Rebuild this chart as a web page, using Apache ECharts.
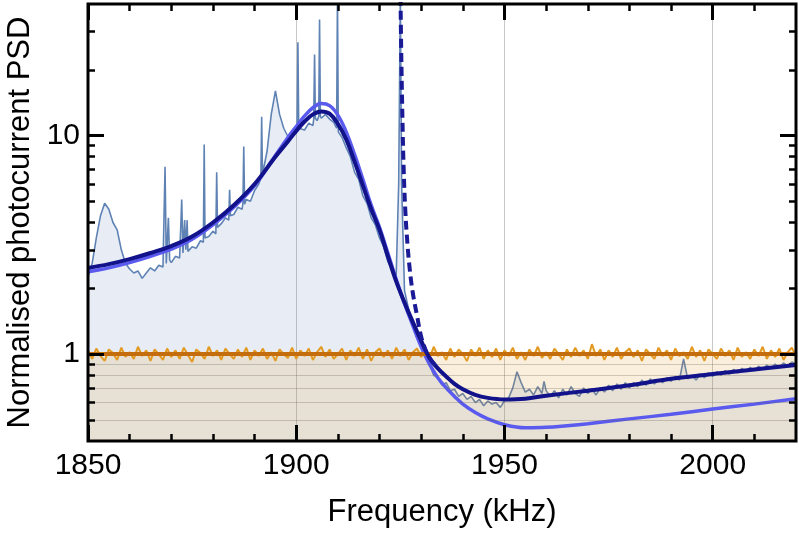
<!DOCTYPE html>
<html>
<head>
<meta charset="utf-8">
<script src="https://cdn.jsdelivr.net/npm/echarts@6/dist/echarts.min.js"></script>
<style>
  html, body { margin: 0; padding: 0; background: #fff; }
  #chart { width: 799px; height: 535px; }
</style>
</head>
<body>
<div id="chart"></div>
<script>
// axis ranges and ticks
const freqRange = [1850, 2020]
const psdRange = [0.4, 40]
const freqTicks = [1850, 1900, 1950, 2000]
const freqMinorTicks = [1860, 1870, 1880, 1890, 1910, 1920, 1930, 1940, 1960, 1970, 1980, 1990, 2010]
const psdTicks = [1, 10]
const psdMinorTicks = [0.5, 0.6, 0.7, 0.8, 0.9, 2, 3, 4, 5, 6, 7, 8, 9, 20, 30]
const belowUnityGrid = [0.5, 0.6, 0.7, 0.8, 0.9]

// measured photocurrent PSD (kHz, normalised)
const measured = [
    [1850, 2.25], [1851, 2.6], [1852, 3.4], [1853, 4.3], [1854, 4.9], [1855, 4.6], [1856, 4.0], [1857, 3.7],
    [1858, 3.0], [1859, 2.6], [1860, 2.45], [1861, 2.35], [1862, 2.4], [1863, 2.22], [1864, 2.35], [1865, 2.48],
    [1866, 2.4], [1867, 2.55], [1868, 2.5], [1868.5, 7.2], [1868.8, 2.6], [1869, 2.65], [1869.3, 4.2], [1869.6, 2.7],
    [1870, 2.62], [1871, 2.8], [1872, 2.75], [1872.5, 5.1], [1872.8, 2.9], [1873, 2.85], [1873.2, 4.1], [1873.5, 3.0],
    [1873.8, 4.1], [1874, 2.95], [1875, 3.1], [1876, 3.05], [1877, 3.3], [1877.7, 3.25], [1877.9, 9.1], [1878.1, 3.4],
    [1879, 3.45], [1880, 3.65], [1880.7, 3.55], [1880.9, 6.8], [1881.1, 3.8], [1882, 3.95], [1883, 4.2], [1883.8, 4.1],
    [1884, 5.65], [1884.2, 4.3], [1885, 4.35], [1886, 4.7], [1887, 4.6], [1887.2, 4.9], [1887.4, 8.9], [1887.6, 4.85],
    [1888, 5.1], [1889, 5.0], [1890, 5.6], [1891, 6.0], [1891.5, 6.4], [1891.7, 12.2], [1891.9, 6.6], [1892, 6.8],
    [1893, 8.5], [1894, 12.5], [1895, 16.0], [1896, 12.5], [1897, 10.8], [1898, 9.9], [1899, 10.5], [1900, 10.2],
    [1900.2, 10.7], [1900.4, 26.7], [1900.6, 10.8], [1901, 11.0], [1902, 10.6], [1903, 11.4], [1904, 11.1],
    [1904.2, 11.9], [1904.4, 23.5], [1904.6, 12.0], [1905, 11.7], [1905.4, 12.2], [1905.6, 34], [1905.8, 12.3],
    [1906, 12.0], [1907, 12.5], [1908, 11.9], [1909, 11.5], [1909.7, 10.8], [1909.9, 45], [1910.1, 10.4],
    [1911, 9.8], [1912, 8.8], [1913, 8.0], [1914, 6.8], [1915, 6.3], [1916, 5.3], [1917, 4.9], [1918, 4.2],
    [1919, 3.9], [1920, 3.4], [1921, 3.1], [1922, 2.65], [1923, 2.45], [1924, 2.3], [1924.6, 6], [1925, 45],
    [1925.3, 6], [1926, 1.95], [1927, 1.6], [1928, 1.35], [1929, 1.18], [1930, 1.1], [1931, 0.97], [1932, 0.9],
    [1933, 0.8], [1934, 0.78], [1935, 0.72], [1936, 0.74], [1937, 0.68], [1938, 0.69], [1939, 0.64], [1940, 0.66],
    [1941, 0.62], [1942, 0.64], [1943, 0.6], [1944, 0.62], [1945, 0.58], [1946, 0.61], [1947, 0.59], [1948, 0.6],
    [1949, 0.57], [1950, 0.61], [1951, 0.63], [1952, 0.7], [1953, 0.83], [1954, 0.74], [1955, 0.67], [1956, 0.69],
    [1957, 0.65], [1958, 0.71], [1959, 0.66], [1959.5, 0.75], [1960, 0.68], [1961, 0.64], [1962, 0.68], [1963, 0.63],
    [1964, 0.69], [1965, 0.65], [1966, 0.71], [1967, 0.66], [1968, 0.64], [1969, 0.7], [1970, 0.66], [1971, 0.69],
    [1972, 0.65], [1973, 0.7], [1974, 0.67], [1975, 0.72], [1976, 0.68], [1977, 0.73], [1978, 0.69], [1979, 0.74],
    [1980, 0.7], [1981, 0.74], [1982, 0.71], [1983, 0.76], [1984, 0.72], [1985, 0.77], [1986, 0.73], [1987, 0.76],
    [1988, 0.74], [1989, 0.78], [1990, 0.75], [1991, 0.79], [1992, 0.76], [1993, 0.95], [1994, 0.77], [1995, 0.8],
    [1996, 0.76], [1997, 0.81], [1998, 0.78], [1999, 0.82], [2000, 0.79], [2001, 0.83], [2002, 0.8], [2003, 0.84],
    [2004, 0.81], [2005, 0.85], [2006, 0.82], [2007, 0.86], [2008, 0.83], [2009, 0.87], [2010, 0.84], [2011, 0.88],
    [2012, 0.85], [2013, 0.89], [2014, 0.86], [2015, 0.9], [2016, 0.87], [2017, 0.91], [2018, 0.88], [2019, 0.92],
    [2020, 0.9]
]

// shot noise reference, one value per kHz from 1850
const shotStart = 1850
const shotNoise = [
    1.04, 0.95, 1.06, 0.98, 0.93, 1.05, 1.01, 0.94, 1.07, 0.97,
    1.02, 0.95, 1.08, 0.98, 1.04, 0.93, 1.05, 1.00, 0.94, 1.06,
    0.97, 1.04, 0.95, 1.07, 0.99, 0.92, 1.05, 1.01, 0.95, 1.08,
    0.98, 1.04, 0.94, 1.06, 1.00, 0.95, 1.05, 0.97, 1.07, 0.94,
    1.04, 0.98, 1.06, 0.95, 1.02, 0.93, 1.05, 1.00, 0.96, 1.07,
    0.95, 1.04, 0.98, 1.06, 0.94, 1.02, 1.08, 0.97, 1.05, 0.95,
    1.00, 1.06, 0.94, 1.04, 0.98, 1.07, 0.95, 1.05, 0.93, 1.02,
    1.06, 0.97, 1.04, 0.95, 1.07, 0.98, 1.05, 0.94, 1.02, 1.06,
    0.97, 1.04, 0.95, 1.08, 0.98, 1.02, 0.94, 1.06, 0.97, 1.05,
    1.00, 0.93, 1.05, 0.98, 1.07, 0.95, 1.04, 0.97, 1.06, 0.94,
    1.04, 0.98, 1.07, 0.95, 1.02, 0.94, 1.05, 0.98, 1.08, 0.96,
    1.02, 0.95, 1.06, 1.00, 0.94, 1.05, 0.97, 1.07, 0.98, 1.04,
    0.95, 1.11, 0.98, 1.05, 0.94, 1.04, 0.97, 1.07, 0.95, 1.02,
    1.06, 0.97, 1.04, 0.93, 1.05, 1.00, 0.95, 1.07, 0.98, 1.04,
    0.94, 1.06, 0.98, 1.02, 0.95, 1.08, 0.97, 1.04, 0.93, 1.05,
    1.00, 0.95, 1.06, 0.98, 1.04, 0.94, 1.07, 0.97, 1.02, 0.95,
    1.05, 0.98, 1.08, 0.95, 1.04, 0.97, 1.06, 0.94, 1.02, 1.07,
    0.98
]
const shotLevel = 1

// model fits
const fitFull = [
    [1850, 2.48], [1855, 2.58], [1860, 2.72], [1865, 2.9], [1870, 3.12], [1875, 3.45], [1880, 4.0],
    [1885, 4.8], [1890, 6.0], [1895, 8.0], [1898, 9.4], [1900, 10.5], [1902, 11.6], [1904, 12.5], [1906, 12.9],
    [1908, 12.6], [1910, 11.3], [1912, 9.6], [1914, 7.6], [1916, 5.9], [1918, 4.6], [1920, 3.7], [1922, 2.8],
    [1924, 2.15], [1926, 1.72], [1928, 1.4], [1930, 1.15], [1932, 0.96], [1934, 0.86], [1936, 0.79], [1938, 0.73],
    [1940, 0.69], [1943, 0.65], [1946, 0.63], [1950, 0.62], [1955, 0.625], [1960, 0.645], [1970, 0.68],
    [1980, 0.72], [1990, 0.77], [2000, 0.81], [2010, 0.85], [2020, 0.89]
]
const fitNoCavity = [
    [1850, 2.38], [1855, 2.48], [1860, 2.62], [1865, 2.8], [1870, 3.02], [1875, 3.35], [1880, 3.9],
    [1885, 4.7], [1890, 5.9], [1895, 8.1], [1898, 9.8], [1900, 11.0], [1902, 12.3], [1904, 13.4], [1906, 14.0],
    [1908, 13.7], [1910, 12.4], [1912, 10.4], [1914, 8.2], [1916, 6.3], [1918, 4.8], [1920, 3.8], [1922, 2.9],
    [1924, 2.2], [1926, 1.7], [1928, 1.35], [1930, 1.08], [1932, 0.9], [1934, 0.78], [1936, 0.7], [1938, 0.64],
    [1940, 0.59], [1943, 0.54], [1946, 0.505], [1950, 0.475], [1955, 0.46], [1960, 0.462], [1965, 0.47],
    [1970, 0.48], [1980, 0.505], [1990, 0.53], [2000, 0.56], [2010, 0.59], [2020, 0.625]
]
const fitResonance = [
    [1925.0, 50], [1925.2, 25], [1925.5, 12], [1925.8, 7], [1926.2, 4.5], [1926.7, 3.2], [1927.3, 2.4],
    [1928, 1.9], [1929, 1.5], [1930, 1.2], [1931, 1.05], [1932, 0.96], [1934, 0.86]
]

const FONT = 'Liberation Sans, Arial, Helvetica, sans-serif'
const BLACK = '#000'

const chart = echarts.init(document.getElementById('chart'), null, { renderer: 'canvas' })

const option = {
    animation: false,
    grid: { left: 88, right: 3, top: 4, bottom: 94, outerBoundsMode: 'none' },
    xAxis: {
        type: 'value', min: freqRange[0], max: freqRange[1], interval: 50,
        name: 'Frequency (kHz)', nameLocation: 'middle', nameGap: 56,
        nameTextStyle: { fontSize: 31, color: BLACK, fontFamily: FONT },
        axisLine: { show: false },
        axisTick: { show: true, inside: true, length: 16, lineStyle: { color: BLACK, width: 3 } },
        axisLabel: { fontSize: 30, color: BLACK, fontFamily: FONT, margin: 10, showMaxLabel: false, formatter: v => String(v) },
        splitLine: { show: true, lineStyle: { color: '#c8c8c8', width: 1 } }
    },
    yAxis: {
        type: 'log', logBase: 10, min: psdRange[0], max: psdRange[1],
        name: 'Normalised photocurrent PSD', nameLocation: 'middle', nameGap: 52,
        nameTextStyle: { fontSize: 31, color: BLACK, fontFamily: FONT },
        axisLine: { show: false },
        axisTick: { show: true, inside: true, length: 16, lineStyle: { color: BLACK, width: 3 } },
        axisLabel: { fontSize: 30, color: BLACK, fontFamily: FONT, margin: 8, showMinLabel: false, showMaxLabel: false },
        splitLine: { show: false }
    },
    series: [
        {
            type: 'line', data: measured, showSymbol: false, z: 2,
            lineStyle: { color: '#5f82b4', width: 1.6 },
            areaStyle: { color: 'rgba(91,127,181,0.2)', origin: 'start' },
            markLine: {
                silent: true, symbol: 'none', label: { show: false },
                lineStyle: { color: 'rgba(110,100,90,0.3)', width: 1.2, type: 'solid' },
                data: belowUnityGrid.map(v => ({ yAxis: v }))
            }
        },
        {
            type: 'line', data: shotNoise.map((v, i) => [shotStart + i, v]), showSymbol: false, z: 3,
            lineStyle: { color: '#e39a22', width: 2 },
            areaStyle: { color: 'rgba(220,150,30,0.22)', origin: 'start' },
            markLine: {
                silent: true, symbol: 'none', label: { show: false },
                lineStyle: { color: '#c46d0c', width: 4, type: 'solid' },
                data: [{ yAxis: shotLevel }]
            }
        },
        {
            type: 'line', data: fitNoCavity, showSymbol: false, smooth: 0.4, z: 4,
            lineStyle: { color: '#5a5aee', width: 3.5 }
        },
        {
            id: 'fitFull', type: 'line', data: fitFull, showSymbol: false, smooth: 0.4, z: 5,
            lineStyle: { color: '#12128a', width: 4 }
        },
        {
            type: 'line', data: fitResonance, showSymbol: false, smooth: 0.4, z: 6,
            lineStyle: { color: '#1a1a96', width: 4, type: [9, 5] }
        }
    ]
}

chart.setOption(option)

// inward ticks on all four sides, as marker segments placed through the chart's own scales
function tickSegments() {
    const toPx = (x, y) => chart.convertToPixel({ gridIndex: 0 }, [x, y])
    const lo = toPx(freqRange[0], psdRange[0])
    const hi = toPx(freqRange[1], psdRange[1])
    const segs = []
    const seg = (x1, y1, x2, y2, w) => segs.push([
        { x: x1, y: y1, lineStyle: { color: BLACK, width: w, type: 'solid', opacity: 1 } },
        { x: x2, y: y2 }
    ])
    freqTicks.concat(freqMinorTicks).forEach(v => {
        const len = freqTicks.includes(v) ? 16 : 7
        const w = freqTicks.includes(v) ? 3 : 2.5
        const px = toPx(v, psdRange[0])[0]
        seg(px, lo[1], px, lo[1] - len, w)
        seg(px, hi[1], px, hi[1] + len, w)
    })
    psdTicks.concat(psdMinorTicks).forEach(v => {
        const len = psdTicks.includes(v) ? 16 : 7
        const w = psdTicks.includes(v) ? 3 : 2.5
        const py = toPx(freqRange[0], v)[1]
        seg(lo[0], py, lo[0] + len, py, w)
        seg(hi[0], py, hi[0] - len, py, w)
    })
    return { lo: lo, hi: hi, segs: segs }
}

const frame = tickSegments()
chart.setOption({
    series: [{
        id: 'fitFull',
        markLine: { silent: true, symbol: 'none', label: { show: false }, data: frame.segs }
    }],
    graphic: {
        elements: [{
            id: 'frame', type: 'rect', z: 100, silent: true,
            shape: { x: frame.lo[0], y: frame.hi[1], width: frame.hi[0] - frame.lo[0], height: frame.lo[1] - frame.hi[1] },
            style: { fill: null, stroke: BLACK, lineWidth: 3 }
        }]
    }
})
</script>
</body>
</html>
